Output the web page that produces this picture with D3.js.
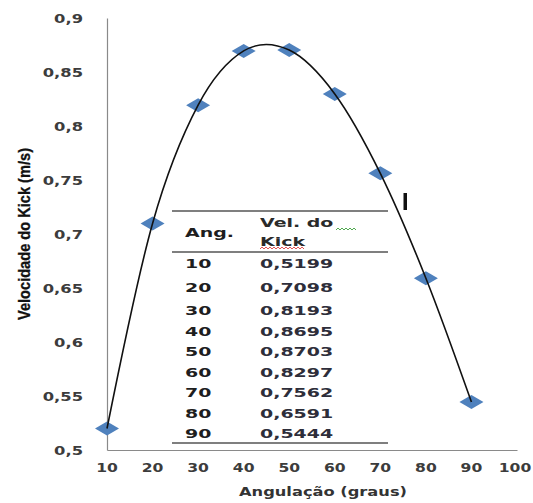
<!DOCTYPE html>
<html>
<head>
<meta charset="utf-8">
<script src="https://cdn.jsdelivr.net/npm/d3@7"></script>
<style>
  html, body { margin: 0; padding: 0; background: #fff; }
  svg { display: block; }
</style>
</head>
<body>
<svg id="chart" width="533" height="503"></svg>
<script>
// Kick velocity measured at each angle
const angles = [10, 20, 30, 40, 50, 60, 70, 80, 90];
const velocities = [0.5199, 0.7098, 0.8193, 0.8695, 0.8703, 0.8297, 0.7562, 0.6591, 0.5444];
const velocityLabels = ["0,5199", "0,7098", "0,8193", "0,8695", "0,8703", "0,8297", "0,7562", "0,6591", "0,5444"];

const xTicks = [10, 20, 30, 40, 50, 60, 70, 80, 90, 100];
const yTicks = [0.5, 0.55, 0.6, 0.65, 0.7, 0.75, 0.8, 0.85, 0.9];
const yTickLabels = ["0,5", "0,55", "0,6", "0,65", "0,7", "0,75", "0,8", "0,85", "0,9"];

const xTitle = "Angulação  (graus)";
const yTitle = "Velocidade do Kick (m/s)";
const tableHeaderAng = "Ang.";
const tableHeaderVel1 = "Vel. do";
const tableHeaderVel2 = "Kick";

const svg = d3.select("#chart");
const axisFont = "'DejaVu Sans', sans-serif";

const x = d3.scaleLinear().domain([10, 100]).range([107, 517]);
const y = d3.scaleLinear().domain([0.5, 0.9]).range([450, 18]);

// Y axis
const yAxis = svg.append("g")
  .attr("transform", `translate(${x(10)},0)`)
  .call(d3.axisLeft(y).tickValues(yTicks).tickFormat((d, i) => yTickLabels[i]).tickSize(0));
yAxis.select(".domain").attr("stroke", "#8a8a8a").attr("stroke-width", 1.2);
const ySx = 1.42;
yAxis.selectAll(".tick text")
  .attr("x", -24 / ySx)
  .attr("dy", "0.36em")
  .attr("transform", `scale(${ySx},1)`)
  .attr("font-family", axisFont)
  .attr("font-weight", "bold")
  .attr("font-size", 11.5)
  .attr("fill", "#3c3c3c");

// X axis
const xAxis = svg.append("g")
  .attr("transform", `translate(0,${y(0.5)})`)
  .call(d3.axisBottom(x).tickValues(xTicks).tickFormat(d3.format("d")).tickSize(0));
xAxis.select(".domain").attr("stroke", "#8a8a8a").attr("stroke-width", 1.2);
const xSx = 1.3;
xAxis.selectAll(".tick")
  .each(function (d) {
    const t = d3.select(this);
    // keep the last label inside the frame
    const tx = Math.min(x(d), 515);
    t.attr("transform", `translate(${tx},0) scale(${xSx},1)`);
  });
xAxis.selectAll(".tick text")
  .attr("y", 18)
  .attr("dy", "0.36em")
  .attr("font-family", axisFont)
  .attr("font-weight", "bold")
  .attr("font-size", 12)
  .attr("fill", "#3c3c3c");

// Axis titles
svg.append("text")
  .attr("x", 323)
  .attr("y", 491)
  .attr("dy", "0.35em")
  .attr("text-anchor", "middle")
  .attr("font-family", axisFont)
  .attr("font-weight", "bold")
  .attr("font-size", 13)
  .attr("fill", "#333")
  .attr("textLength", 168)
  .attr("lengthAdjust", "spacingAndGlyphs")
  .text(xTitle);

svg.append("text")
  .attr("transform", `translate(24,${(y(0.5) + y(0.9)) / 2}) rotate(-90)`)
  .attr("dy", "0.35em")
  .attr("text-anchor", "middle")
  .attr("font-family", "'Liberation Sans', Arial, sans-serif")
  .attr("font-weight", "bold")
  .attr("font-size", 16.5)
  .attr("fill", "#111")
  .attr("stroke", "#111")
  .attr("stroke-width", 0.3)
  .attr("textLength", 172)
  .attr("lengthAdjust", "spacingAndGlyphs")
  .text(yTitle);

const points = angles.map((a, i) => ({ a, v: velocities[i] }));

// Diamond markers
const dw = 12, dh = 7;
svg.append("g").selectAll("path")
  .data(points)
  .join("path")
  .attr("transform", d => `translate(${x(d.a)},${y(d.v)})`)
  .attr("d", `M${-dw},0L0,${-dh}L${dw},0L0,${dh}Z`)
  .attr("fill", "#4f81bd");

// Smoothed line through the measurements
const line = d3.line()
  .x(d => x(d.a))
  .y(d => y(d.v))
  .curve(d3.curveCardinal.tension(0));
svg.append("path")
  .datum(points)
  .attr("d", line)
  .attr("fill", "none")
  .attr("stroke", "#111")
  .attr("stroke-width", 1.6);

// Data table
const tbl = svg.append("g");
const tLeft = 172, tRight = 388;
const colAng = 185, colVel = 260;
const tSx = 1.58;
const rowY = d3.scaleLinear().domain([0, 1, 2, 8]).range([264, 288, 311, 434]);

[211, 252, 443].forEach(ly => {
  tbl.append("line")
    .attr("x1", tLeft).attr("x2", tRight)
    .attr("y1", ly).attr("y2", ly)
    .attr("stroke", "#000").attr("stroke-width", 1.2);
});

function cell(tx, ty, str, fill) {
  tbl.append("text")
    .attr("transform", `translate(${tx},${ty}) scale(${tSx},1)`)
    .attr("dy", "0.36em")
    .attr("font-family", axisFont)
    .attr("font-weight", "bold")
    .attr("font-size", 12)
    .attr("fill", fill)
    .text(str);
}

cell(colAng, 233, tableHeaderAng, "#1e1e1e");
cell(colVel, 223, tableHeaderVel1, "#2a2a2a");
cell(colVel, 242, tableHeaderVel2, "#2a2a2a");

angles.forEach((a, i) => {
  cell(colAng, rowY(i), String(a), "#1e1e1e");
  cell(colVel, rowY(i), velocityLabels[i], "#2e2e3a");
});

// Proofing squiggles under the header words
function squiggle(x0, x1, yy, color) {
  const pts = [];
  for (let px = x0, k = 0; px <= x1; px += 2, k++) pts.push([px, yy + (k % 2 ? -1 : 1)]);
  tbl.append("path")
    .attr("d", d3.line()(pts))
    .attr("fill", "none")
    .attr("stroke", color)
    .attr("stroke-width", 0.9);
}
squiggle(336, 356, 229, "#3ca03c");
squiggle(260, 305, 248, "#e04040");

// Text cursor
svg.append("rect")
  .attr("x", 403.5).attr("y", 193)
  .attr("width", 3.5).attr("height", 17)
  .attr("fill", "#111");
</script>
</body>
</html>
